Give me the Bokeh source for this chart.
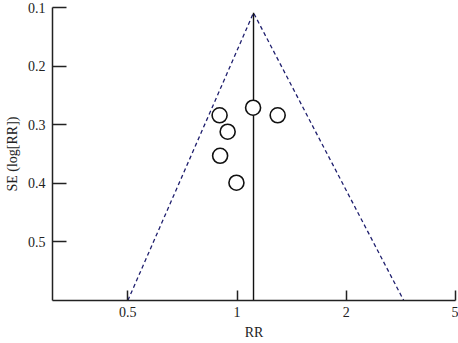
import numpy as np
from bokeh.plotting import figure
from bokeh.models import Range1d, FixedTicker
from bokeh.embed import file_html
from bokeh.resources import INLINE

# Study data (RR and SE of log RR)
rr = [0.895, 1.107, 1.294, 0.942, 0.898, 0.996]
se = [0.284, 0.271, 0.284, 0.312, 0.353, 0.399]

# Pooled estimate and funnel limits
pooled_rr = 1.11
apex_se = 0.109
bottom_se = 0.6
funnel_low_rr = 0.5
funnel_high_rr = 2.88

# Axis ticks (equally spaced positions on the chart)
x_tick_pos = [-1, 0, 1, 2]
x_tick_labels = ["0.5", "1", "2", "5"]
y_ticks = [0.1, 0.2, 0.3, 0.4, 0.5]

FONT = "Liberation Serif"

p = figure(width=458, height=343, output_backend="svg", toolbar_location=None,
           x_range=Range1d(-1.69, 2.0), y_range=Range1d(0.6, 0.1),
           min_border_left=52, min_border_right=3, min_border_top=7, min_border_bottom=43)
p.outline_line_color = None
p.xgrid.visible = False
p.ygrid.visible = False
p.background_fill_color = "white"
p.border_fill_color = "white"

lx = lambda v: np.log2(np.asarray(v, dtype=float))

# Funnel
p.line([lx(funnel_low_rr), lx(pooled_rr), lx(funnel_high_rr)],
       [bottom_se, apex_se, bottom_se],
       line_color="#1f1f6e", line_width=1.3, line_dash="4 3")
# Pooled vertical line
p.line([lx(pooled_rr), lx(pooled_rr)], [apex_se, bottom_se],
       line_color="#111111", line_width=1.4)
# Studies
p.scatter(lx(rr), se, size=15, fill_color="white", line_color="#111111", line_width=1.6)

for ax in (p.xaxis[0], p.yaxis[0]):
    ax.axis_line_color = "#222222"
    ax.axis_line_width = 1.5
    ax.major_tick_line_color = "#222222"
    ax.major_tick_line_width = 1.5
    ax.major_tick_out = 0
    ax.minor_tick_line_color = None
    ax.major_label_text_font = FONT
    ax.major_label_text_font_size = "14px"
    ax.major_label_text_color = "#222222"
    ax.axis_label_text_font = FONT
    ax.axis_label_text_font_size = "14px"
    ax.axis_label_text_font_style = "normal"
    ax.axis_label_text_color = "#222222"

p.xaxis.ticker = FixedTicker(ticks=x_tick_pos)
p.xaxis.major_label_overrides = {t: l for t, l in zip(x_tick_pos, x_tick_labels)}
p.xaxis.major_tick_in = 10
p.xaxis.major_label_standoff = 6
p.xaxis.axis_label = "RR"
p.xaxis.axis_label_standoff = 5

p.yaxis.ticker = FixedTicker(ticks=y_ticks)
p.yaxis.major_label_overrides = {t: f"{t:.1f}" for t in y_ticks}
p.yaxis.major_tick_in = 14
p.yaxis.major_label_standoff = 7
p.yaxis.axis_label = "SE (log[RR])"
p.yaxis.axis_label_standoff = 5

open("out.html", "w").write(file_html(p, INLINE))
